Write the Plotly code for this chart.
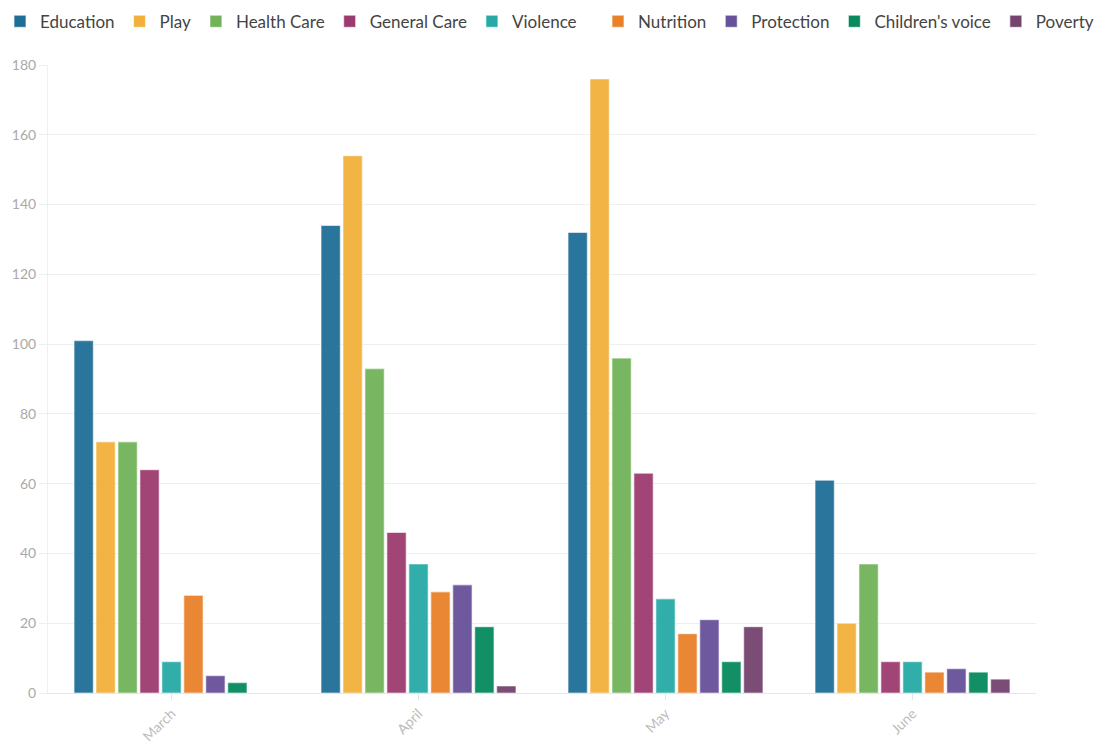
import plotly.graph_objects as go

months = ["March", "April", "May", "June"]
series_names = ["Education", "Play", "Health Care", "General Care", "Violence",
                "Nutrition", "Protection", "Children's voice", "Poverty"]
education = [101, 134, 132, 61]
play = [72, 154, 176, 20]
health_care = [72, 93, 96, 37]
general_care = [64, 46, 63, 9]
violence = [9, 37, 27, 9]
nutrition = [28, 29, 17, 6]
protection = [5, 31, 21, 7]
childrens_voice = [3, 19, 9, 6]
poverty = [0, 2, 19, 4]

values = [education, play, health_care, general_care, violence, nutrition,
          protection, childrens_voice, poverty]
colors = ["#1f6e96", "#f2b03a", "#72b35a", "#9c3a6f", "#27aaa6",
          "#e9812a", "#67519a", "#068a5c", "#74436f"]

fig = go.Figure()
for i, (name, vals, col) in enumerate(zip(series_names, values, colors)):
    fig.add_trace(go.Bar(
        x=months, y=vals, name=name,
        legend="legend" if i < 5 else "legend2",
        marker=dict(color=col, opacity=0.95,
                    line=dict(color="rgba(255,255,255,0.55)", width=1.2)),
    ))

leg_common = dict(orientation="h", yref="container", y=0.995, yanchor="top",
                  xref="container", font=dict(size=17, color="#444"),
                  itemwidth=30, traceorder="normal", bgcolor="rgba(0,0,0,0)")

fig.update_layout(
    width=1099, height=742,
    barmode="group", bargap=0.2, bargroupgap=0.12,
    plot_bgcolor="white", paper_bgcolor="white",
    margin=dict(l=48, r=63, t=65, b=49, autoexpand=False),
    font=dict(family="Lato, Open Sans, sans-serif", color="#444"),
    legend=dict(x=0.0, xanchor="left", **leg_common),
    legend2=dict(x=1.0, xanchor="right", **leg_common),
    showlegend=True,
)
fig.update_yaxes(range=[0, 180], dtick=20, showgrid=True, gridcolor="#efefef",
                 gridwidth=1, showline=True, linecolor="#efefef", linewidth=1,
                 ticks="outside", ticklen=8, tickcolor="#efefef",
                 tickfont=dict(size=14, color="#aaa"), zeroline=False,
                 automargin=False, fixedrange=True)
fig.update_xaxes(showline=True, linecolor="#e6e6e6", linewidth=1,
                 ticks="outside", ticklen=6, tickcolor="#e6e6e6",
                 tickangle=-45, tickfont=dict(size=14, color="#bbb"),
                 automargin=False)

fig.write_html("out.html")
